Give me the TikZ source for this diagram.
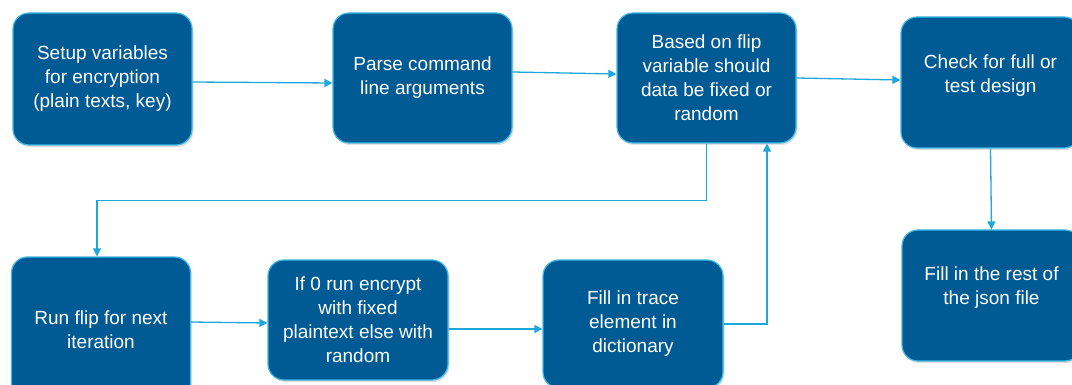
\documentclass[tikz,border=0pt]{standalone}
\usepackage{fontspec}
\setmainfont{Liberation Sans}
\usetikzlibrary{arrows.meta,shadows}

\definecolor{boxfill}{RGB}{0,90,148}
\definecolor{boxline}{RGB}{60,185,228}
\definecolor{arrline}{RGB}{28,168,218}

\tikzstyle{box} = [draw=boxline, line width=1.2pt, fill=boxfill, rounded corners=16pt,
	text=white, align=center, inner sep=0pt, minimum width=179pt,
	font=\fontsize{19}{24}\selectfont,
	drop shadow={shadow xshift=1.5pt, shadow yshift=-2pt, opacity=0.25}]
\tikzstyle{arr} = [draw=arrline, line width=1.3pt, -{Triangle[length=8pt,width=8pt]}]

\begin{document}
\begin{tikzpicture}[x=1pt, y=-1pt]
\useasboundingbox (0,0) rectangle (1072,385);
\node[box, minimum height=132pt] (setup) at (102.5,79) {Setup variables\\for encryption\\(plain texts, key)};
\node[box, minimum height=130pt] (parse) at (422.5,78) {Parse command\\line arguments};
\node[box, minimum height=130pt] (based) at (706.5,78) {Based on flip\\variable should\\data be fixed or\\random};
\node[box, minimum height=131pt] (check) at (990.5,82.5) {Check for full or\\test design\\[-6pt]\mbox{}};
\node[box, minimum height=131pt] (rest) at (991.5,295.5) {Fill in the rest of\\the json file\\[-4pt]\mbox{}};
\node[box, minimum height=146pt] (runflip) at (101,330) {Run flip for next\\iteration};
\node[box, minimum height=120pt, minimum width=180pt] (encrypt) at (358,320) {If 0 run encrypt\\with fixed\\plaintext else with\\random};
\node[box, minimum height=128pt, minimum width=180pt] (trace) at (633,324) {Fill in trace\\element in\\dictionary};

% top row
\draw[arr] ([yshift=-3pt]setup.east) -- ([yshift=-5pt]parse.west);
\draw[arr] ([yshift=6pt]parse.east) -- ([yshift=4pt]based.west);
\draw[arr] (based.east) -- ([yshift=2.5pt]check.west);
\draw[arr] (check.south) -- (rest.north);
% loop back
\draw[arr] (based.south) -- ++(0,57) -| ([xshift=-4pt]runflip.north);
\draw[arr] ([yshift=8pt]runflip.east) -- ([yshift=-3pt]encrypt.west);
\draw[arr] ([yshift=-9pt]encrypt.east) -- ([yshift=-5pt]trace.west);
\draw[arr] (trace.east) -| ([xshift=60.5pt]based.south);
\end{tikzpicture}
\end{document}
